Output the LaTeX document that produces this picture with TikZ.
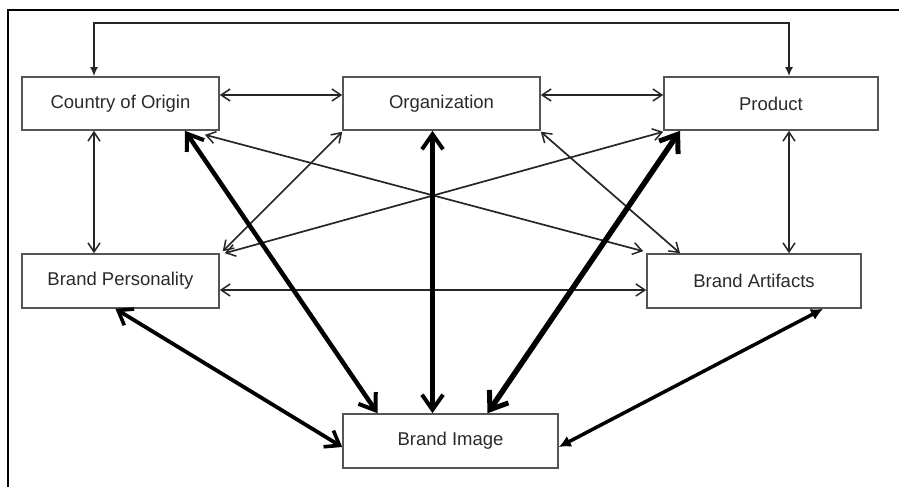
\documentclass[tikz,border=0pt]{standalone}
\usepackage{fontspec}
\setmainfont{Liberation Sans}
\usetikzlibrary{arrows.meta}
\definecolor{boxgray}{HTML}{555555}
\definecolor{txtgray}{HTML}{2A2A2A}
\begin{document}
\begin{tikzpicture}[x=1pt,y=-1pt,
  box/.style={draw=boxgray,line width=1.6pt,rectangle,inner sep=0pt,minimum height=53pt,
    text=txtgray,font=\fontsize{18.5}{20}\selectfont},
  thin/.style={line width=1.7pt,draw=black!85,{Straight Barb[length=9pt,width=12pt,line width=1.5pt]}-{Straight Barb[length=9pt,width=12pt,line width=1.5pt]}},
  tri/.style={line width=1.7pt,draw=black!85,{Latex[length=9pt,width=8pt]}-{Latex[length=9pt,width=8pt]}},
  thick/.style={line width=4.5pt,draw=black,{Straight Barb[length=15pt,width=21pt,line width=4pt]}-{Straight Barb[length=15pt,width=21pt,line width=4pt]}},
  thicker/.style={line width=5.5pt,draw=black,{Straight Barb[length=16pt,width=23pt,line width=5pt]}-{Straight Barb[length=16pt,width=23pt,line width=5pt]}},
  medthick/.style={line width=3.8pt,draw=black,{Straight Barb[length=13pt,width=19pt,line width=3.6pt]}-{Straight Barb[length=13pt,width=19pt,line width=3.6pt]}},
  medtri/.style={line width=3.5pt,draw=black,{Latex[length=12pt,width=12pt]}-{Latex[length=12pt,width=12pt]}}
]
\useasboundingbox (0,0) rectangle (899,487);
\fill[white] (0,0) rectangle (899,487);
% frame (top and left edges visible)
\draw[line width=2.2pt] (8,487) -- (8,10) -- (899,10);

\node[box,minimum width=197pt] (coo)  at (120.5,103.5) {Country of Origin};
\node[box,minimum width=197pt] (org)  at (441.5,103.5) {Organization};
\node[box,minimum width=214pt] (prod) at (771,103.5)   {Product};
\node[box,minimum width=197pt,minimum height=54pt] (bp) at (120.5,281) {Brand Personality};
\node[box,minimum width=214pt,minimum height=54pt] (ba) at (754,281)   {Brand Artifacts};
\node[box,minimum width=215pt,minimum height=54pt] (bi) at (450.5,441) {Brand Image};

% top connector
\draw[tri] ([xshift=-26.5pt]coo.north) -- ([xshift=-26.5pt]coo.north |- 0,23) -| ([xshift=18pt]prod.north);

% thin connectors
\draw[thin] ([yshift=8.5pt]coo.east) -- ([yshift=8.5pt]org.west);
\draw[thin] ([yshift=8.5pt]org.east) -- ([yshift=8.5pt]prod.west);
\draw[thin] ([xshift=-26.5pt]coo.south) -- ([xshift=-26.5pt]bp.north);
\draw[thin] ([xshift=18pt]prod.south) -- ([xshift=35pt]ba.north);
\draw[thin] ([yshift=-9pt]bp.east) -- ([yshift=-9pt]ba.west);
\draw[thin] ([xshift=84.5pt,yshift=-4pt]coo.south) -- ([xshift=-3pt,yshift=2pt]ba.north west);
\draw[thin] ([yshift=-1pt]org.south east) -- ([xshift=-74pt]ba.north);
\draw[thin] ([yshift=-1pt]org.south west) -- ([xshift=3pt,yshift=2pt]bp.north east);
\draw[thin] ([yshift=-1pt]prod.south west) -- ([xshift=5pt]bp.north east);

% thick connectors to Brand Image
\draw[thick] ([xshift=64.5pt]coo.south) -- ([xshift=-73pt]bi.north);
\draw[thick] ([xshift=-9pt]org.south) -- ([xshift=-18pt]bi.north);
\draw[thicker] ([xshift=-91pt]prod.south) -- ([xshift=37pt]bi.north);
\draw[medthick] ([xshift=-5pt]bp.south) -- ([yshift=-6pt]bi.west);
\draw[medtri] ([xshift=69pt]ba.south) -- ([yshift=-6pt]bi.east);
\end{tikzpicture}
\end{document}
